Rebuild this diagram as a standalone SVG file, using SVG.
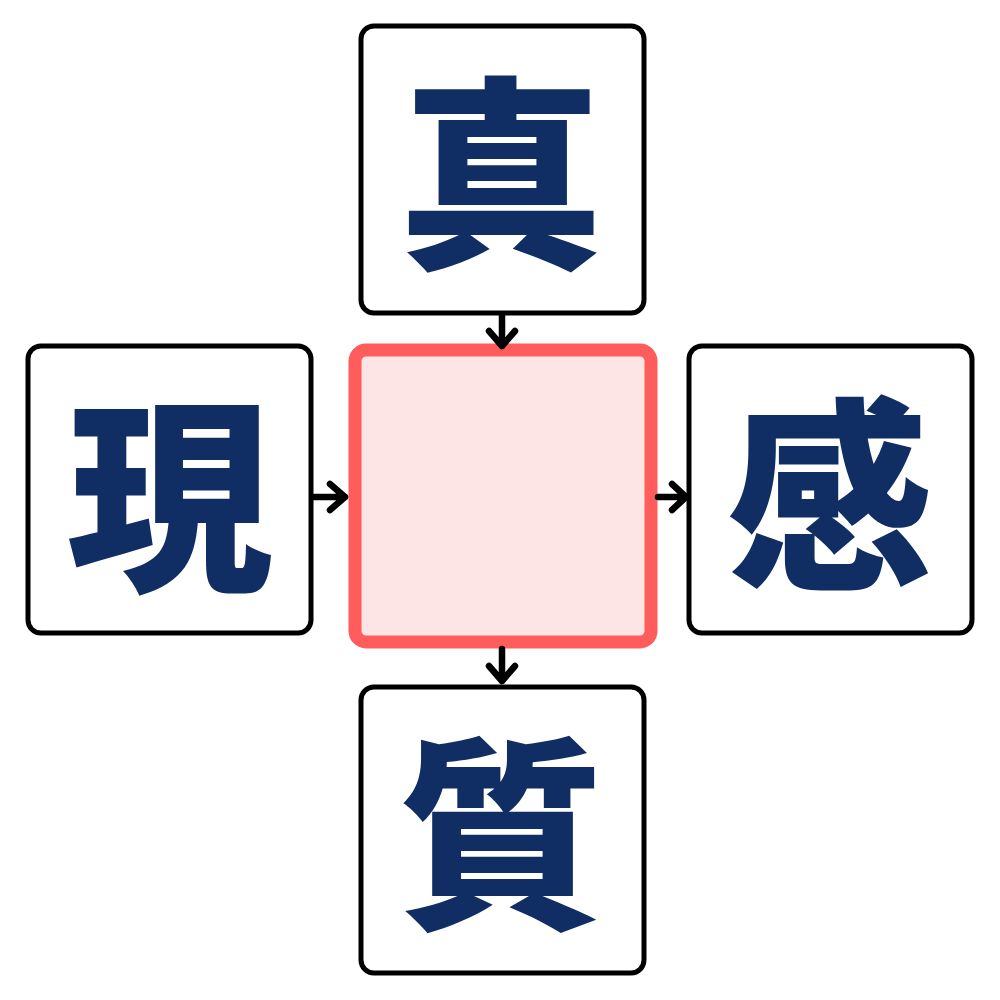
<svg xmlns="http://www.w3.org/2000/svg" width="1000" height="1000" viewBox="0 0 1000 1000">
<style>
.box{fill:#ffffff;stroke:#000000;stroke-width:5}
.center{fill:#fde5e5;stroke:#ff5c5c;stroke-width:13}
.ch{font-family:"Noto Sans CJK JP","Noto Sans CJK SC",sans-serif;font-weight:900;font-size:206px;fill:#102e63;text-anchor:middle;dominant-baseline:central}
.conn{fill:none;stroke:#000000;stroke-width:6.5;stroke-linecap:round;stroke-linejoin:round}
</style>
<rect width="1000" height="1000" fill="#ffffff"/>
<g id="node-top">
<rect class="box" x="361" y="26" width="283" height="287" rx="13"/>
<text class="ch" x="501" y="162">真</text>
</g>
<g id="node-left">
<rect class="box" x="28" y="346" width="283" height="287" rx="13"/>
<text class="ch" x="170" y="484">現</text>
</g>
<g id="node-center">
<rect class="center" x="355" y="350" width="296" height="292" rx="11"/>
</g>
<g id="node-right">
<rect class="box" x="689" y="346" width="283" height="287" rx="13"/>
<text class="ch" x="830" y="483">感</text>
</g>
<g id="node-bottom">
<rect class="box" x="361" y="687" width="283" height="286" rx="13"/>
<text class="ch" x="501" y="822">質</text>
</g>
<g id="connectors">
<path class="conn" d="M502,316 L502,346 M489,331 L502,346 L515,331"/>
<path class="conn" d="M314,497 L345,497 M330,484 L345,497 L330,510"/>
<path class="conn" d="M658,497 L686,497 M672,484 L686,497 L672,510"/>
<path class="conn" d="M502,649 L502,681 M489,666 L502,681 L515,666"/>
</g>
</svg>
